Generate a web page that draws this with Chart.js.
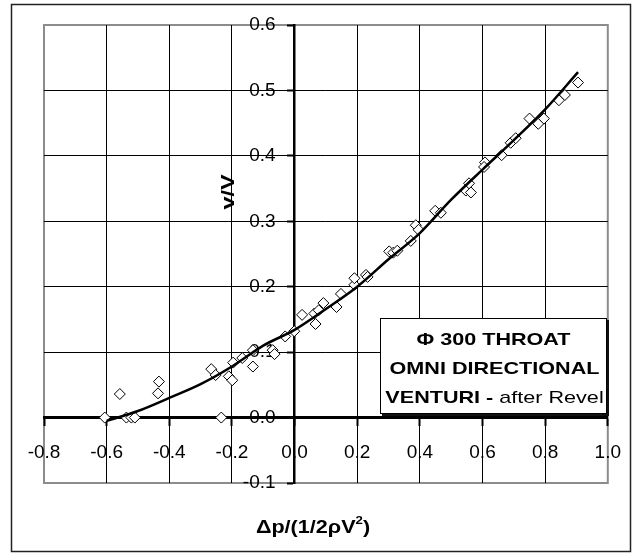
<!DOCTYPE html>
<html lang="en">
<head>
  <meta charset="utf-8">
  <title>Omni directional venturi</title>
  <script src="https://cdn.jsdelivr.net/npm/chart.js@4.4.1/dist/chart.umd.min.js"></script>
  <style>
    html, body { margin: 0; padding: 0; background: #fff; }
    #wrap { width: 638px; height: 553px; }
  </style>
</head>
<body>
  <div id="wrap"><canvas id="myChart" width="638" height="553"></canvas></div>
  <script>
    // measured points: dp/(1/2 rho V^2) against v/V
    var pointsX = [-0.606, -0.558, -0.537, -0.521, -0.510, -0.433, -0.436, -0.266, -0.252, -0.234,
      -0.210, -0.199, -0.196, -0.167, -0.133, -0.133, -0.070, -0.064, -0.030, -0.001,
      0.024, 0.063, 0.067, 0.077, 0.092, 0.134, 0.148, 0.191, 0.191, 0.228,
      0.233, 0.302, 0.315, 0.328, 0.371, 0.387, 0.396, 0.449, 0.467, 0.547,
      0.557, 0.563, 0.608, 0.605, 0.661, 0.690, 0.706, 0.750, 0.778, 0.796,
      0.844, 0.863, 0.905];
    var pointsY = [0.000, 0.036, 0.000, 0.000, 0.000, 0.055, 0.037, 0.074, 0.065, 0.000,
      0.063, 0.057, 0.084, 0.091, 0.103, 0.078, 0.103, 0.097, 0.124, 0.132,
      0.157, 0.159, 0.143, 0.164, 0.175, 0.169, 0.189, 0.203, 0.213, 0.218,
      0.215, 0.254, 0.252, 0.255, 0.270, 0.294, 0.287, 0.316, 0.313, 0.347,
      0.358, 0.344, 0.390, 0.383, 0.401, 0.420, 0.427, 0.457, 0.449, 0.457,
      0.485, 0.493, 0.512];

    // trendline
    var curveX = [-0.600, -0.500, -0.400, -0.300, -0.200, -0.100, 0.000, 0.100, 0.200,
      0.300, 0.400, 0.500, 0.600, 0.700, 0.800, 0.905];
    var curveY = [-0.005, 0.010, 0.030, 0.051, 0.078, 0.110, 0.134, 0.166, 0.200,
      0.242, 0.282, 0.333, 0.379, 0.424, 0.471, 0.528];

    var xTicks = [-0.8, -0.6, -0.4, -0.2, 0.0, 0.2, 0.4, 0.6, 0.8, 1.0];
    var yTicks = [-0.1, 0.0, 0.1, 0.2, 0.3, 0.4, 0.5, 0.6];

    var xTitle = ['\u0394p/(1/2\u03C1V', '2', ')'];
    var yTitle = 'v/V';
    var boxLines = ['\u03A6 300 THROAT', 'OMNI DIRECTIONAL'];
    var boxLast = ['VENTURI - ', 'after Revel'];

    var FONT = '"Liberation Sans", Arial, sans-serif';

    function fmt(v) {
      return Math.abs(v) < 1e-9 ? '0.0' : v.toFixed(1);
    }

    // text drawn a little wider, like the original
    function wideText(ctx, text, x, y, sx) {
      ctx.save();
      ctx.translate(x, y);
      ctx.scale(sx, 1);
      ctx.fillText(text, 0, 0);
      ctx.restore();
    }

    var decorations = {
      id: 'decorations',
      beforeDraw: function (chart) {
        var ctx = chart.ctx;
        var a = chart.chartArea;
        ctx.save();
        ctx.fillStyle = '#fff';
        ctx.fillRect(0, 0, chart.width, chart.height);
        // outer frame
        ctx.strokeStyle = '#222';
        ctx.lineWidth = 1.5;
        ctx.strokeRect(11.5, 4.5, 619, 547);
        // plot area frame
        ctx.strokeStyle = '#8c8c8c';
        ctx.lineWidth = 2;
        ctx.strokeRect(a.left, a.top, a.right - a.left, a.bottom - a.top);
        ctx.restore();
      },
      afterDatasetsDraw: function (chart) {
        var ctx = chart.ctx;
        ctx.save();
        // text box
        var bx = 380, by = 318, bw = 227, bh = 96;
        ctx.fillStyle = '#111';
        ctx.fillRect(bx + 2, by + 2, bw, bh);
        ctx.fillStyle = '#fff';
        ctx.fillRect(bx, by, bw, bh);
        ctx.strokeStyle = '#000';
        ctx.lineWidth = 1;
        ctx.strokeRect(bx + 0.5, by + 0.5, bw - 1, bh - 1);

        var sx = 1.27;
        var cx = bx + bw / 2 + 1;
        ctx.fillStyle = '#000';
        ctx.textBaseline = 'alphabetic';
        ctx.textAlign = 'left';
        ctx.font = 'bold 17px ' + FONT;
        var w0 = ctx.measureText(boxLines[0]).width * sx;
        wideText(ctx, boxLines[0], cx - w0 / 2 - 1, 345, sx);
        var w1 = ctx.measureText(boxLines[1]).width * sx;
        wideText(ctx, boxLines[1], cx - w1 / 2, 374, sx);
        var wa = ctx.measureText(boxLast[0]).width * sx;
        ctx.font = '17px ' + FONT;
        var wb = ctx.measureText(boxLast[1]).width * sx;
        var x0 = cx - (wa + wb) / 2;
        ctx.font = 'bold 17px ' + FONT;
        wideText(ctx, boxLast[0], x0, 403, sx);
        ctx.font = '17px ' + FONT;
        wideText(ctx, boxLast[1], x0 + wa, 403, sx);
        ctx.restore();
      },
      afterDraw: function (chart) {
        var ctx = chart.ctx;
        ctx.save();
        ctx.fillStyle = '#000';
        ctx.textBaseline = 'alphabetic';
        ctx.textAlign = 'left';

        // x axis title with superscript
        var sx = 1.2;
        ctx.font = 'bold 18px ' + FONT;
        var t1 = ctx.measureText(xTitle[0]).width * sx;
        var t3 = ctx.measureText(xTitle[2]).width * sx;
        ctx.font = 'bold 11px ' + FONT;
        var t2 = ctx.measureText(xTitle[1]).width * sx;
        var start = 313 - (t1 + t2 + t3) / 2;
        ctx.font = 'bold 18px ' + FONT;
        wideText(ctx, xTitle[0], start, 533, sx);
        wideText(ctx, xTitle[2], start + t1 + t2, 533, sx);
        ctx.font = 'bold 11px ' + FONT;
        wideText(ctx, xTitle[1], start + t1, 524, sx);

        // y axis title, rotated
        ctx.font = 'bold 18px ' + FONT;
        ctx.translate(234, 192);
        ctx.rotate(-Math.PI / 2);
        ctx.scale(1.3, 1);
        ctx.textAlign = 'center';
        ctx.fillText(yTitle, 0, 0);
        ctx.restore();
      }
    };

    var ctx = document.getElementById('myChart');
    var myChart = new Chart(ctx, {
      data: {
        datasets: [
          {
            type: 'line',
            label: 'trend',
            data: curveX.map(function (x, i) { return { x: x, y: curveY[i] }; }),
            borderColor: '#000',
            borderWidth: 2.5,
            pointRadius: 0,
            cubicInterpolationMode: 'monotone',
            fill: false,
            order: 0
          },
          {
            type: 'scatter',
            label: 'measured',
            data: pointsX.map(function (x, i) { return { x: x, y: pointsY[i] }; }),
            pointStyle: 'rectRot',
            pointRadius: 5.5,
            borderColor: '#000',
            borderWidth: 1,
            backgroundColor: '#fff',
            order: 1
          }
        ]
      },
      options: {
        responsive: false,
        animation: false,
        layout: { padding: { left: 44, top: 25, right: 29, bottom: 70 } },
        plugins: {
          legend: { display: false },
          tooltip: { enabled: false }
        },
        scales: {
          x: {
            type: 'linear',
            position: { y: 0 },
            min: -0.8,
            max: 1.0,
            afterBuildTicks: function (axis) {
              axis.ticks = xTicks.map(function (v) { return { value: v }; });
            },
            grid: {
              color: function (c) {
                return (c.index === 0 || c.index === xTicks.length - 1) ? 'rgba(0,0,0,0)' : '#000';
              },
              lineWidth: 1,
              tickLength: 7,
              tickColor: '#000',
              tickWidth: 2
            },
            border: { color: '#000', width: 3 },
            ticks: {
              color: '#000',
              font: { family: FONT, size: 19 },
              padding: 17,
              maxRotation: 0,
              autoSkip: false,
              callback: fmt
            }
          },
          y: {
            type: 'linear',
            position: { x: 0 },
            min: -0.1,
            max: 0.6,
            afterBuildTicks: function (axis) {
              axis.ticks = yTicks.map(function (v) { return { value: v }; });
            },
            grid: {
              color: function (c) {
                return (c.index === 0 || c.index === yTicks.length - 1) ? 'rgba(0,0,0,0)' : '#000';
              },
              lineWidth: 1,
              tickLength: 6,
              tickColor: '#000',
              tickWidth: 2
            },
            border: { color: '#000', width: 2.5 },
            ticks: {
              color: '#000',
              font: { family: FONT, size: 19 },
              autoSkip: false,
              // labels sit against the axis here, so pad them on the right
              callback: function (v) { return fmt(v) + '\u2002\u2002'; }
            }
          }
        }
      },
      plugins: [decorations]
    });
  </script>
</body>
</html>
